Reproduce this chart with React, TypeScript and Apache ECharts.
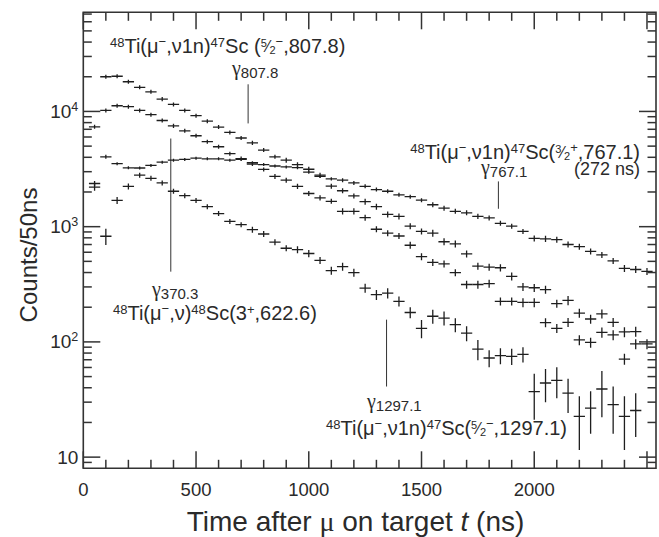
import React, { useEffect, useRef } from 'react';
import * as echarts from 'echarts';

const SANS = '"Liberation Sans", Arial, Helvetica, sans-serif';
const SERIF = '"Liberation Serif", "DejaVu Serif", serif';
const INK = '#1e1e1e';
const TXT = '#2a2a2a';

// bin centres (ns), bin width 50 ns
const TIMES = [50, 100, 150, 200, 250, 300, 350, 400, 450, 500, 550, 600, 650, 700, 750, 800, 850, 900, 950, 1000,
  1050, 1100, 1150, 1200, 1250, 1300, 1350, 1400, 1450, 1500, 1550, 1600, 1650, 1700, 1750, 1800, 1850, 1900, 1950, 2000,
  2050, 2100, 2150, 2200, 2250, 2300, 2350, 2400, 2450, 2500];
const BIN_HALF = 25;

// gamma 807.8 keV
const G807 = [null, 20000, 20200, 18100, 16200, 14800, 12800, 11500, 10200, 9200, 8230, 7320, 6570, 5880, 5340, 4620, 4040, 3780, 3450, 3150,
  2800, 2250, 2050, 1850, 1650, 1490, 1280, 1230, 1010, 910, 880, 740, 710, 580, 455, 445, 440, 370, 300, 295,
  284, 215, 229, 178, 158, 175, 148, 122, 123, 96];
const G807_ERR = [null, 4, 4, 4, 4, 4, 4, 4, 4, 4, 4, 4, 4, 4, 4, 4, 4, 5, 5, 5,
  5, 5, 5, 5, 6, 6, 6, 6, 6, 6, 7, 7, 7, 7, 7, 7, 7, 8, 8, 8,
  8, 8, 9, 9, 9, 9, 9, 10, 10, 10];

// gamma 370.3 keV
const G370 = [7360, 10200, 11200, 11000, 10200, 9380, 8340, 7500, 6790, 6150, 5470, 4940, 4300, 3900, 3500, 3140, 2730, 2530, 2240, 1940,
  1780, 1660, 1360, 1360, 1200, 950, 880, 830, 690, 550, 490, 475, 400, 315, 315, 320, 225, 225, 220, 220,
  147, 131, 148, 104, 99, 121, 115, 71, 96, null];
const G370_ERR = [4, 4, 4, 4, 4, 4, 4, 4, 4, 4, 4, 4, 4, 4, 4, 4, 5, 5, 5, 5,
  5, 5, 6, 6, 6, 6, 6, 6, 7, 7, 7, 7, 7, 8, 8, 8, 8, 8, 9, 9,
  9, 9, 9, 10, 10, 10, 10, 11, 10, null];

// gamma 767.1 keV
const G767 = [2370, 4040, 3520, 3240, 3230, 3400, 3630, 3780, 3830, 3930, 3880, 3880, 3780, 3830, 3590, 3460, 3360, 3300, 3250, 2970,
  2730, 2600, 2530, 2400, 2240, 2100, 2030, 1890, 1820, 1700, 1550, 1450, 1360, 1320, 1230, 1190, 1070, 1010, 910, 790,
  785, 773, 700, 670, 610, 570, 505, 435, 425, 410];
const G767_ERR = [5, 4, 3, 3, 3, 3, 3, 3, 3, 3, 3, 3, 3, 3, 3, 3, 3, 3, 3, 3,
  3, 3, 4, 4, 4, 4, 4, 4, 4, 4, 5, 5, 5, 5, 5, 5, 5, 5, 5, 6,
  6, 6, 6, 6, 6, 6, 6, 7, 7, 7];

// gamma 1297.1 keV
const G1297 = [2200, 826, 1690, 2240, 2800, 2630, 2400, 2030, 1860, 1690, 1490, 1300, 1110, 1040, 944, 864, 735, 650, 633, 585,
  510, 415, 450, 400, 293, 257, 265, 225, 180, 131, 167, 161, 141, 119, 86.6, 72.5, 76, 75, 78, 37,
  44, 46.4, 36, 22.6, 26.6, 39, 28.5, 22.6, 25.4, null];
const G1297_ERR = [7, 16, 7, 6, 5, 5, 5, 5, 5, 5, 5, 5, 5, 5, 6, 6, 6, 6, 7, 7,
  7, 8, 8, 8, 9, 10, 10, 10, 11, 18, 14, 14, 14, 15, 20, 17, 16, 16, 15, 43,
  32, 30, 33, 49, 40, 43, 44, 49, 41, null];

// axes
const X_MIN = 0;
const X_MAX = 2540;
const Y_MIN = 8;
const Y_MAX = 72500;
const X_MAJOR = [0, 500, 1000, 1500, 2000, 2500];
const X_MINOR = [100, 200, 300, 400, 600, 700, 800, 900, 1100, 1200, 1300, 1400, 1600, 1700, 1800, 1900, 2100, 2200, 2300, 2400];
const Y_MAJOR = [10, 100, 1000, 10000];
const Y_MINOR = [9, 20, 30, 40, 50, 60, 70, 80, 90, 200, 300, 400, 500, 600, 700, 800, 900,
  2000, 3000, 4000, 5000, 6000, 7000, 8000, 9000, 20000, 30000, 40000, 50000, 60000, 70000];

// gamma-line markers: [time, upper count, lower count]
const MARKERS = [
  [731, 17200, 7870],
  [1841, 2470, 1430],
  [388, 5820, 407],
  [1345, 156, 41],
];

function buildPoints(vals: (number | null)[], errs: (number | null)[]) {
  const out: number[][] = [];
  vals.forEach((v, i) => {
    if (v == null) return;
    out.push([TIMES[i], v, (errs[i] as number) || 0]);
  });
  return out;
}

const lineStyle = { stroke: INK, lineWidth: 1.3 };

function errRender(params: any, api: any) {
  const t = api.value(0);
  const v = api.value(1);
  const e = (v * api.value(2)) / 100;
  const l = api.coord([t - BIN_HALF, v]);
  const r = api.coord([t + BIN_HALF, v]);
  const top = api.coord([t, v + e]);
  const bot = api.coord([t, Math.max(v - e, 0.01)]);
  return {
    type: 'group',
    children: [
      { type: 'line', shape: { x1: l[0], y1: l[1], x2: r[0], y2: r[1] }, style: lineStyle },
      { type: 'line', shape: { x1: top[0], y1: top[1], x2: bot[0], y2: bot[1] }, style: lineStyle },
    ],
  };
}

const tickStyle = { stroke: '#333', lineWidth: 1.5 };

function tickRender(params: any, api: any) {
  const cs = params.coordSys;
  const kind = api.value(0);
  const v = api.value(1);
  const len = kind === 0 || kind === 2 ? 17 : 8.5;
  if (kind < 2) {
    const px = api.coord([v, 1000])[0];
    return {
      type: 'group',
      children: [
        { type: 'line', shape: { x1: px, y1: cs.y + cs.height, x2: px, y2: cs.y + cs.height - len }, style: tickStyle },
        { type: 'line', shape: { x1: px, y1: cs.y, x2: px, y2: cs.y + len }, style: tickStyle },
      ],
    };
  }
  const py = api.coord([1000, v])[1];
  return {
    type: 'group',
    children: [
      { type: 'line', shape: { x1: cs.x, y1: py, x2: cs.x + len, y2: py }, style: tickStyle },
      { type: 'line', shape: { x1: cs.x + cs.width, y1: py, x2: cs.x + cs.width - len, y2: py }, style: tickStyle },
    ],
  };
}

function markerRender(params: any, api: any) {
  const a = api.coord([api.value(0), api.value(1)]);
  const b = api.coord([api.value(0), api.value(2)]);
  return { type: 'line', shape: { x1: a[0], y1: a[1], x2: b[0], y2: b[1] }, style: { stroke: '#333', lineWidth: 1 } };
}

const F = 20;
const richAnn: any = {
  sp: { fontSize: 13, fontFamily: SANS, fill: TXT, padding: [0, 0, 7, 0] },
  sg: { fontSize: 13, fontFamily: SANS, fill: TXT, padding: [0, 0, 9, 0] },
  fn: { fontSize: 11, fontFamily: SANS, fill: TXT, padding: [0, 0, 6, 0] },
  fs: { fontSize: 16, fontFamily: SANS, fill: TXT },
  fd: { fontSize: 11, fontFamily: SANS, fill: TXT, padding: [8, 0, 0, 0] },
  g: { fontSize: 20, fontFamily: SERIF, fill: TXT },
  sb: { fontSize: 15, fontFamily: SANS, fill: TXT, padding: [9, 0, 0, 0] },
};

function ann(text: string, x: number, y: number, align: string, size = F) {
  return {
    type: 'text',
    x,
    y,
    style: {
      text,
      fontSize: size,
      fontFamily: SANS,
      fill: TXT,
      rich: richAnn,
      align,
      textAlign: align,
      verticalAlign: 'middle',
      textVerticalAlign: 'middle',
    },
  };
}

export default function App() {
  const ref = useRef<HTMLDivElement>(null);
  useEffect(() => {
    if (!ref.current) return;
    const chart = echarts.init(ref.current, undefined, { renderer: 'svg' });
    const ticks: number[][] = [];
    X_MAJOR.forEach((v) => ticks.push([0, v]));
    X_MINOR.forEach((v) => ticks.push([1, v]));
    Y_MAJOR.forEach((v) => ticks.push([2, v]));
    Y_MINOR.forEach((v) => ticks.push([3, v]));

    const errSeries = (name: string, vals: any[], errs: any[]) => ({
      type: 'custom',
      name,
      renderItem: errRender,
      data: buildPoints(vals, errs),
      encode: { x: 0, y: 1 },
      clip: true,
      silent: true,
    });

    chart.setOption({
      animation: false,
      backgroundColor: '#ffffff',
      textStyle: { fontFamily: SANS },
      grid: {
        left: 83.3,
        right: 0.8,
        top: 12.3,
        bottom: 68.7,
        show: true,
        borderColor: '#333',
        borderWidth: 1.6,
        backgroundColor: 'transparent',
      },
      xAxis: {
        type: 'value',
        min: X_MIN,
        max: X_MAX,
        interval: 500,
        axisLine: { show: false },
        axisTick: { show: false },
        splitLine: { show: false },
        axisLabel: {
          color: TXT,
          fontSize: 18.5,
          fontFamily: SANS,
          margin: 12,
          formatter: (v: number) => (v % 500 === 0 && v < 2500 ? String(v) : ''),
        },
      },
      yAxis: {
        type: 'log',
        logBase: 10,
        min: Y_MIN,
        max: Y_MAX,
        axisLine: { show: false },
        axisTick: { show: false },
        splitLine: { show: false },
        minorTick: { show: false },
        axisLabel: {
          margin: 5,
          formatter: (v: number) => {
            const l = Math.log10(v);
            const e = Math.round(l);
            if (Math.abs(l - e) > 1e-6) return '';
            if (e === 1) return '{b|10}';
            return '{b|10}{s|' + e + '}';
          },
          rich: {
            b: { fontSize: 19, fontFamily: SANS, color: TXT },
            s: { fontSize: 12.5, fontFamily: SANS, color: TXT, padding: [0, 0, 9, 0] },
          },
        },
      },
      series: [
        { type: 'custom', name: 'ticks', renderItem: tickRender, data: ticks, encode: { x: 0, y: 1 }, clip: false, silent: true, z: 5 },
        { type: 'custom', name: 'markers', renderItem: markerRender, data: MARKERS, encode: { x: 0, y: [1, 2] }, clip: false, silent: true },
        errSeries('807.8', G807, G807_ERR),
        errSeries('370.3', G370, G370_ERR),
        errSeries('767.1', G767, G767_ERR),
        errSeries('1297.1', G1297, G1297_ERR),
      ],
      graphic: [
        ann('{sp|48}Ti(μ{sg|−},ν1n){sp|47}Sc ({fn|5}{fs|⁄}{fd|2}{sg|−},807.8)', 110, 46, 'left'),
        ann('{g|γ}{sb|807.8}', 232, 68, 'left'),
        ann('{sp|48}Ti(μ{sg|−},ν1n){sp|47}Sc({fn|3}{fs|⁄}{fd|2}{sg|+},767.1)', 640, 152, 'right'),
        ann('{g|γ}{sb|767.1}', 481, 167, 'left'),
        ann('(272 ns)', 640, 169, 'right', 18),
        ann('{g|γ}{sb|370.3}', 152, 289, 'left'),
        ann('{sp|48}Ti(μ{sg|−},ν){sp|48}Sc(3{sp|+},622.6)', 113, 313.4, 'left'),
        ann('{g|γ}{sb|1297.1}', 367, 401, 'left'),
        ann('{sp|48}Ti(μ{sg|−},ν1n){sp|47}Sc({fn|5}{fs|⁄}{fd|2}{sg|−},1297.1)', 567, 428.4, 'right'),
        {
          type: 'text',
          x: 28.5,
          y: 255,
          rotation: Math.PI / 2,
          style: {
            text: 'Counts/50ns',
            fontSize: 24,
            fontFamily: SANS,
            fill: TXT,
            align: 'center',
            textAlign: 'center',
            verticalAlign: 'middle',
            textVerticalAlign: 'middle',
          },
        },
        {
          type: 'text',
          x: 355.5,
          y: 521.5,
          style: {
            text: 'Time after {mu|μ} on target {it|t} (ns)',
            fontSize: 28,
            fontFamily: SANS,
            fill: TXT,
            align: 'center',
            textAlign: 'center',
            verticalAlign: 'middle',
            textVerticalAlign: 'middle',
            rich: {
              mu: { fontSize: 28, fontFamily: SERIF, fill: TXT },
              it: { fontSize: 28, fontFamily: SANS, fontStyle: 'italic', fill: TXT },
            },
          },
        },
      ],
    });
    return () => chart.dispose();
  }, []);
  return <div ref={ref} style={{ position: 'absolute', left: 0, top: 0, width: 659, height: 537 }} />;
}
